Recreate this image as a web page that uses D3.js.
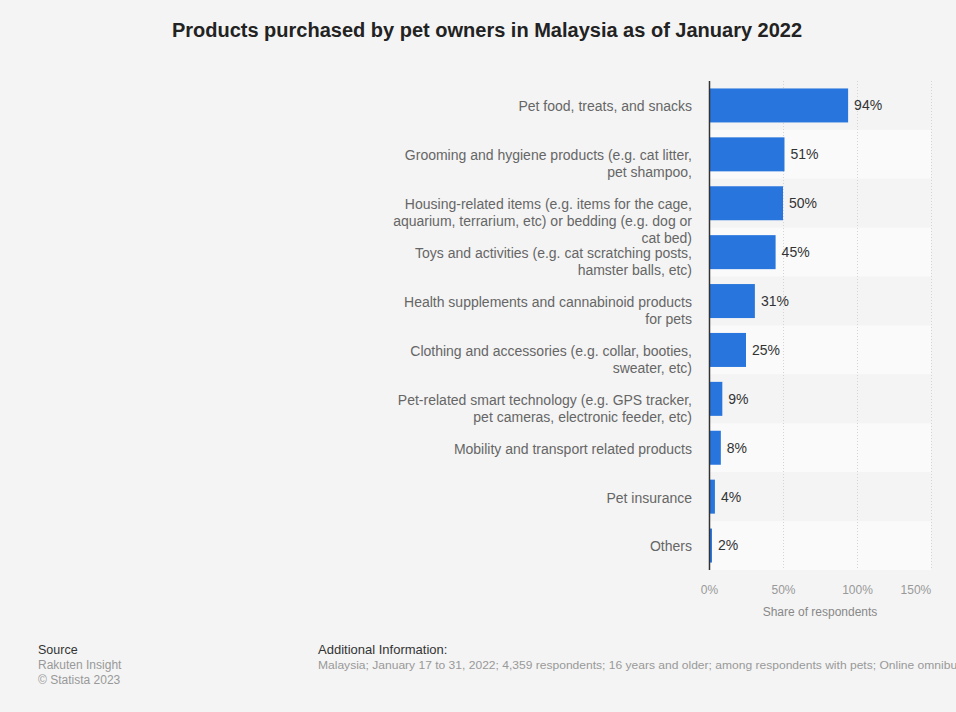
<!DOCTYPE html>
<html>
<head>
<meta charset="utf-8">
<script src="https://cdn.jsdelivr.net/npm/d3@7"></script>
<style>
  html, body { margin: 0; padding: 0; background: #f4f4f4; }
  svg { display: block; font-family: "Liberation Sans", Arial, sans-serif; }
</style>
</head>
<body>
<svg id="chart" width="956" height="712"></svg>
<script>
// Category labels (line breaks as drawn), values in percent
const categories = [
  "Pet food, treats, and snacks",
  "Grooming and hygiene products (e.g. cat litter,\npet shampoo,",
  "Housing-related items (e.g. items for the cage,\naquarium, terrarium, etc) or bedding (e.g. dog or\ncat bed)",
  "Toys and activities (e.g. cat scratching posts,\nhamster balls, etc)",
  "Health supplements and cannabinoid products\nfor pets",
  "Clothing and accessories (e.g. collar, booties,\nsweater, etc)",
  "Pet-related smart technology (e.g. GPS tracker,\npet cameras, electronic feeder, etc)",
  "Mobility and transport related products",
  "Pet insurance",
  "Others"
];
const shares = [94, 51, 50, 45, 31, 25, 9, 8, 4, 2];
const xTicks = [0, 50, 100, 150];

const titleText = "Products purchased by pet owners in Malaysia as of January 2022";
const axisTitle = "Share of respondents";
const sourceLines = ["Rakuten Insight", "\u00A9 Statista 2023"];
const infoText = "Malaysia; January 17 to 31, 2022; 4,359 respondents; 16 years and older; among respondents with pets; Online omnibus survey";

const svg = d3.select("#chart");
const W = 956, H = 712;
const plot = { left: 709, right: 931, top: 81, bottom: 570 };

svg.append("rect").attr("width", W).attr("height", H).attr("fill", "#f4f4f4");

const x = d3.scaleLinear().domain([0, 150]).range([plot.left, plot.right]);
const y = d3.scaleBand().domain(categories).range([plot.top, plot.bottom]).paddingInner(0).paddingOuter(0);

// alternating row bands
svg.append("g").selectAll("rect").data(categories).join("rect")
  .attr("x", plot.left).attr("width", plot.right - plot.left)
  .attr("y", d => y(d)).attr("height", y.bandwidth())
  .attr("fill", (d, i) => i % 2 ? "#fafafa" : "#f4f4f4");

// dotted vertical grid
svg.append("g").selectAll("line").data(xTicks.slice(1)).join("line")
  .attr("x1", d => Math.round(x(d)) + 0.5).attr("x2", d => Math.round(x(d)) + 0.5)
  .attr("y1", plot.top).attr("y2", plot.bottom)
  .attr("stroke", "#d4d4d4").attr("stroke-width", 1).attr("stroke-dasharray", "1,2");

// bars
const barH = 34;
svg.append("g").selectAll("rect").data(shares).join("rect")
  .attr("x", plot.left)
  .attr("y", (d, i) => y(categories[i]) + (y.bandwidth() - barH) / 2)
  .attr("width", d => x(d) - x(0))
  .attr("height", barH)
  .attr("fill", "#2876dd");

// value labels
svg.append("g").selectAll("text").data(shares).join("text")
  .attr("x", d => x(d) + 6)
  .attr("y", (d, i) => y(categories[i]) + y.bandwidth() / 2)
  .attr("dy", "0.35em")
  .attr("font-size", 14).attr("fill", "#333")
  .text(d => d + "%");

// baseline axis
svg.append("line")
  .attr("x1", plot.left + 0.5).attr("x2", plot.left + 0.5)
  .attr("y1", plot.top).attr("y2", plot.bottom)
  .attr("stroke", "#333").attr("stroke-width", 1.5);

// category labels
const catG = svg.append("g");
categories.forEach(c => {
  const lines = c.split("\n");
  const t = catG.append("text")
    .attr("text-anchor", "end")
    .attr("font-size", 14).attr("fill", "#666");
  lines.forEach((ln, j) => {
    t.append("tspan")
      .attr("x", 692)
      .attr("y", y(c) + y.bandwidth() / 2 + 1 + j * 17)
      .attr("dy", "0.35em")
      .text(ln);
  });
});

// x axis ticks
const xAxis = d3.axisBottom(x).tickValues(xTicks).tickFormat(d => d + "%").tickSize(0).tickPadding(0);
const axG = svg.append("g").attr("transform", `translate(0,${plot.bottom})`).call(xAxis);
axG.select(".domain").remove();
axG.selectAll("text").attr("font-size", 12).attr("fill", "#999")
  .attr("font-family", "Liberation Sans, Arial, sans-serif")
  .attr("dy", "2em");
axG.selectAll(".tick").filter(d => d === 150).select("text").attr("dx", "-1.3em");

svg.append("text")
  .attr("x", x(75)).attr("y", 616)
  .attr("text-anchor", "middle")
  .attr("font-size", 12).attr("fill", "#888")
  .text(axisTitle);

// title
svg.append("text")
  .attr("x", 487).attr("y", 37)
  .attr("text-anchor", "middle")
  .attr("font-size", 20).attr("font-weight", "bold").attr("fill", "#222")
  .text(titleText);

// footer
svg.append("text").attr("x", 38).attr("y", 654)
  .attr("font-size", 12.5).attr("fill", "#333").text("Source");
sourceLines.forEach((s, i) => {
  svg.append("text").attr("x", 38).attr("y", 669 + i * 15)
    .attr("font-size", 12).attr("fill", "#999").text(s);
});
svg.append("text").attr("x", 318).attr("y", 654)
  .attr("font-size", 13).attr("fill", "#333").text("Additional Information:");
svg.append("text").attr("x", 318).attr("y", 669)
  .attr("font-size", 11).attr("fill", "#999")
  .attr("textLength", 684).attr("lengthAdjust", "spacingAndGlyphs")
  .text(infoText);
</script>
</body>
</html>
